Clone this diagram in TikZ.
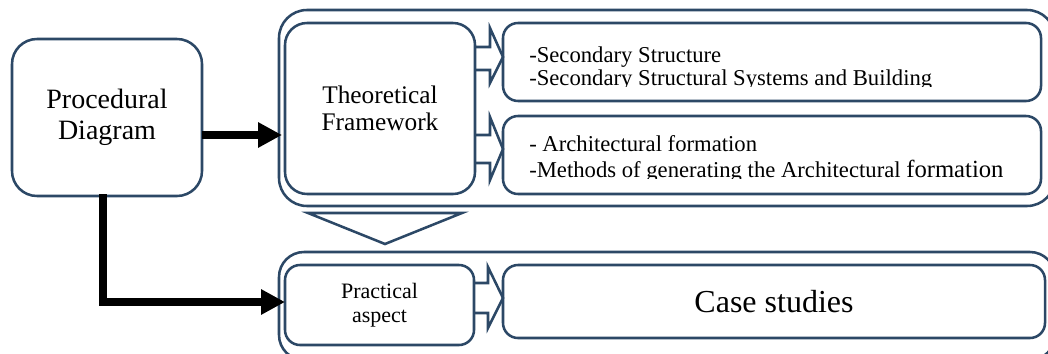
\documentclass[tikz,border=0pt]{standalone}
\usepackage{fontspec}
\setmainfont{Liberation Serif}
\usetikzlibrary{arrows.meta,calc}
\definecolor{bord}{RGB}{44,72,102}
\begin{document}
\begin{tikzpicture}[x=0.75pt,y=-0.75pt,
  box/.style={draw=bord,line width=1.9pt,fill=white,inner sep=0pt,outer sep=0pt},
  blockarrow/.style={draw=bord,line width=1.9pt,line join=miter},
  blackarrow/.style={line width=6pt,-{Triangle[length=18pt,width=18pt]}},
  linetext/.style={anchor=base west,inner sep=0pt,font=\fontsize{17}{19}\selectfont}]
\useasboundingbox (0,0) rectangle (1048,353);
\clip (0,0) rectangle (1048,353);
\fill[white] (0,0) rectangle (1048,353);
% outer groups
\node[box,rounded corners=21pt,minimum width=582pt,minimum height=147pt] (theoOuter) at (667,108) {};
\node[box,rounded corners=18.75pt,minimum width=582pt,minimum height=81pt] (practOuter) at (667,306) {};
% main boxes
\node[box,rounded corners=18.75pt,minimum width=142.5pt,minimum height=117.75pt,
  font=\fontsize{21}{23.25}\selectfont,align=center] (proc) at (107,117.5) {Procedural\\Diagram};
\node[box,rounded corners=16.5pt,minimum width=142.5pt,minimum height=128.25pt,
  font=\fontsize{19}{20.25}\selectfont,align=center] (theo) at (380,108.5) {Theoretical\\Framework};
\node[box,rounded corners=11.25pt,minimum width=403.5pt,minimum height=58.5pt] (b1) at (772,62) {};
\node[box,rounded corners=11.25pt,minimum width=403.5pt,minimum height=58.5pt] (b2) at (772,155) {};
\node[box,rounded corners=11.25pt,minimum width=141.75pt,minimum height=60pt,
  font=\fontsize{16.5}{18}\selectfont,align=center] (pract) at (379.5,305) {Practical\\aspect};
\node[box,rounded corners=11.25pt,minimum width=406.5pt,minimum height=54.75pt,
  font=\fontsize{24}{28}\selectfont] (case) at (774,301.5) {Case studies};
% texts of the right boxes (clipped at the bottom)
\begin{scope}
  \clip (b1.north west) rectangle ($(b1.south east)+(0,-15)$);
  \node[linetext] (b1a) at (529,63) {-Secondary Structure};
  \node[linetext] (b1b) at (529,85) {-Secondary Structural Systems and Building};
\end{scope}
\begin{scope}
  \clip (b2.north west) rectangle ($(b2.south east)+(0,-16)$);
  \node[linetext] (b2a) at (529,151) {- Architectural formation};
  \node[linetext] (b2b) at (529,177) {-Methods of generating the Architectural {\fontsize{18.5}{19}\selectfont formation}};
\end{scope}
% block arrows
\draw[blockarrow] ($(theo.east)+(0,-61.5)$) -- ++(15,0) -- ++(0,-19) -- ($(b1.west)+(0,-5)$)
  -- ++(-13,26) -- ++(0,-13) -- ++(-15,0);
\draw[blockarrow] ($(theo.east)+(0,26.5)$) -- ++(15,0) -- ++(0,-18) -- ($(b2.west)+(0,-6)$)
  -- ++(-13,31) -- ++(0,-17) -- ++(-15,0);
\draw[blockarrow] ($(pract.east)+(0,-22)$) -- ++(14,0) -- ++(0,-16) -- ($(case.west)+(0,-3.5)$)
  -- ++(-15,30) -- ++(0,-15) -- ++(-14,0);
% down triangle
\draw[blockarrow] (308,213) -- (462,213) -- (385,244) -- cycle;
% black arrows
\coordinate (r1) at (0,135);
\coordinate (r2) at (0,302);
\coordinate (c2) at (103,0);
\draw[blackarrow] (proc.east |- r1) -- ($(theoOuter.west |- r1)+(3,0)$);
\draw[blackarrow] ($(proc.south -| c2)+(0,-2)$) |- (pract.west |- r2);
\end{tikzpicture}
\end{document}
